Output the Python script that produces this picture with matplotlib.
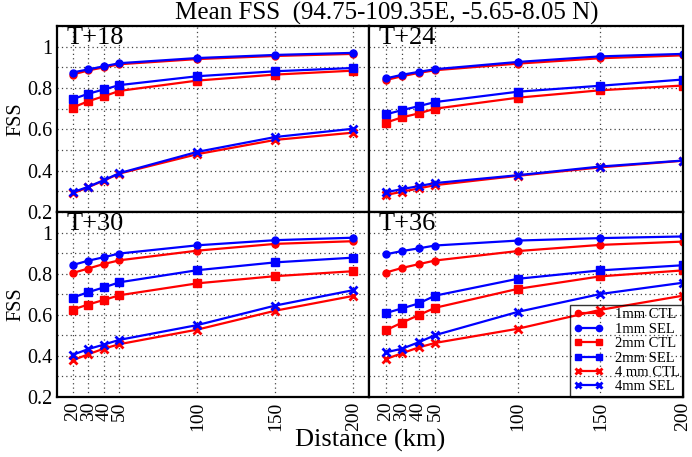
import matplotlib
matplotlib.use("Agg")
import matplotlib.pyplot as plt
from matplotlib.ticker import MultipleLocator

plt.rcParams['font.family'] = ['Liberation Serif', 'DejaVu Serif']

distance = [20, 30, 40, 50, 100, 150, 200]
xtick_labels = ['20', '30', '40', '50', '100', '150', '200']
ytick_vals = [0.2, 0.4, 0.6, 0.8, 1.0]
ytick_labels = ['0.2', '0.4', '0.6', '0.8', '1']
panel_titles = ['T+18', 'T+24', 'T+30', 'T+36']
series_labels = ['1mm CTL', '1mm SEL', '2mm CTL', '2mm SEL', '4 mm CTL', '4mm SEL']

# T+18
t18_1mm_ctl = [0.865, 0.885, 0.900, 0.915, 0.940, 0.955, 0.965]
t18_1mm_sel = [0.875, 0.890, 0.905, 0.920, 0.945, 0.960, 0.970]
t18_2mm_ctl = [0.705, 0.736, 0.760, 0.786, 0.836, 0.865, 0.884]
t18_2mm_sel = [0.746, 0.772, 0.793, 0.814, 0.857, 0.881, 0.897]
t18_4mm_ctl = [0.290, 0.320, 0.352, 0.386, 0.480, 0.549, 0.584]
t18_4mm_sel = [0.295, 0.322, 0.354, 0.388, 0.491, 0.563, 0.603]

# T+24
t24_1mm_ctl = [0.838, 0.857, 0.873, 0.886, 0.918, 0.944, 0.958]
t24_1mm_sel = [0.846, 0.864, 0.878, 0.891, 0.926, 0.953, 0.965]
t24_2mm_ctl = [0.632, 0.658, 0.677, 0.700, 0.753, 0.789, 0.812]
t24_2mm_sel = [0.672, 0.693, 0.712, 0.732, 0.782, 0.811, 0.841]
t24_4mm_ctl = [0.282, 0.298, 0.314, 0.330, 0.375, 0.416, 0.448]
t24_4mm_sel = [0.295, 0.311, 0.325, 0.340, 0.378, 0.420, 0.449]

# T+30
t30_1mm_ctl = [0.803, 0.825, 0.847, 0.865, 0.912, 0.945, 0.958]
t30_1mm_sel = [0.842, 0.863, 0.880, 0.898, 0.938, 0.963, 0.975]
t30_2mm_ctl = [0.625, 0.650, 0.672, 0.695, 0.753, 0.788, 0.812]
t30_2mm_sel = [0.683, 0.710, 0.733, 0.758, 0.817, 0.855, 0.878]
t30_4mm_ctl = [0.378, 0.408, 0.435, 0.457, 0.528, 0.620, 0.692]
t30_4mm_sel = [0.405, 0.433, 0.455, 0.478, 0.550, 0.645, 0.720]

# T+36
t36_1mm_ctl = [0.805, 0.828, 0.846, 0.864, 0.910, 0.940, 0.956]
t36_1mm_sel = [0.894, 0.910, 0.923, 0.937, 0.961, 0.973, 0.981]
t36_2mm_ctl = [0.524, 0.562, 0.598, 0.634, 0.726, 0.787, 0.816]
t36_2mm_sel = [0.608, 0.631, 0.655, 0.693, 0.775, 0.816, 0.841]
t36_4mm_ctl = [0.384, 0.413, 0.441, 0.463, 0.532, 0.624, 0.693]
t36_4mm_sel = [0.417, 0.435, 0.466, 0.501, 0.614, 0.701, 0.756]

panels = [
    [t18_1mm_ctl, t18_1mm_sel, t18_2mm_ctl, t18_2mm_sel, t18_4mm_ctl, t18_4mm_sel],
    [t24_1mm_ctl, t24_1mm_sel, t24_2mm_ctl, t24_2mm_sel, t24_4mm_ctl, t24_4mm_sel],
    [t30_1mm_ctl, t30_1mm_sel, t30_2mm_ctl, t30_2mm_sel, t30_4mm_ctl, t30_4mm_sel],
    [t36_1mm_ctl, t36_1mm_sel, t36_2mm_ctl, t36_2mm_sel, t36_4mm_ctl, t36_4mm_sel],
]

colors = ['#ff0000', '#0000ff'] * 3
markers = ['o', 'o', 's', 's', 'x', 'x']
msizes = [5, 5, 5.5, 5.5, 5.5, 5.5]
mews = [1, 1, 1, 1, 2, 2]

W, H = 692, 457
fig = plt.figure(figsize=(W / 100, H / 100), dpi=100)

xl, xm, xr = 57, 369, 683
yt, ym, yb = 26, 212, 397
boxes = [(xl, yt, xm, ym), (xm, yt, xr, ym), (xl, ym, xm, yb), (xm, ym, xr, yb)]
xlims = [(10, 210), (10, 200), (10, 210), (10, 200)]

for i, (x0, y0, x1, y1) in enumerate(boxes):
    ax = fig.add_axes([x0 / W, 1 - y1 / H, (x1 - x0) / W, (y1 - y0) / H])
    for vals, c, m, ms, mew, lab in zip(panels[i], colors, markers, msizes, mews, series_labels):
        ax.plot(distance, vals, color=c, marker=m, markersize=ms, markeredgewidth=mew,
                linewidth=1.6, label=lab, clip_on=True)
    ax.set_xlim(*xlims[i])
    ax.set_ylim(0.2, 1.1)
    ax.set_xticks(distance)
    ax.set_yticks(ytick_vals)
    ax.yaxis.set_minor_locator(MultipleLocator(0.1))
    ax.grid(True, which='both', linestyle=(0, (1, 2.5)), color='#444444', linewidth=0.9)
    ax.tick_params(which='both', length=0)
    for s in ax.spines.values():
        s.set_linewidth(1.6)
    if i in (0, 2):
        ax.set_yticklabels(ytick_labels, fontsize=14.5)
        ax.set_ylabel('FSS', fontsize=14.5, labelpad=1)
    else:
        ax.set_yticklabels([])
    if i in (2, 3):
        ax.set_xticklabels(xtick_labels, rotation=90, fontsize=14)
    else:
        ax.set_xticklabels([])
    ax.text(0.03, 0.995, panel_titles[i], transform=ax.transAxes, fontsize=19,
            ha='left', va='top')
    if i == 3:
        leg = ax.legend(loc='lower right', fontsize=10.5, numpoints=2, frameon=True,
                        fancybox=False, facecolor='none', edgecolor='black',
                        borderaxespad=0, handlelength=2.0, labelspacing=0.08,
                        borderpad=0.25, handletextpad=0.8, markerscale=0.9)
        leg.get_frame().set_linewidth(1.0)

fig.text(387 / W, 1 - 13 / H, 'Mean FSS  (94.75-109.35E, -5.65-8.05 N)',
         ha='center', va='center', fontsize=18)
fig.text((xl + xr) / 2 / W, 1 - 440 / H, 'Distance (km)', ha='center', va='center',
         fontsize=19)

fig.savefig('out.png', dpi=100)
